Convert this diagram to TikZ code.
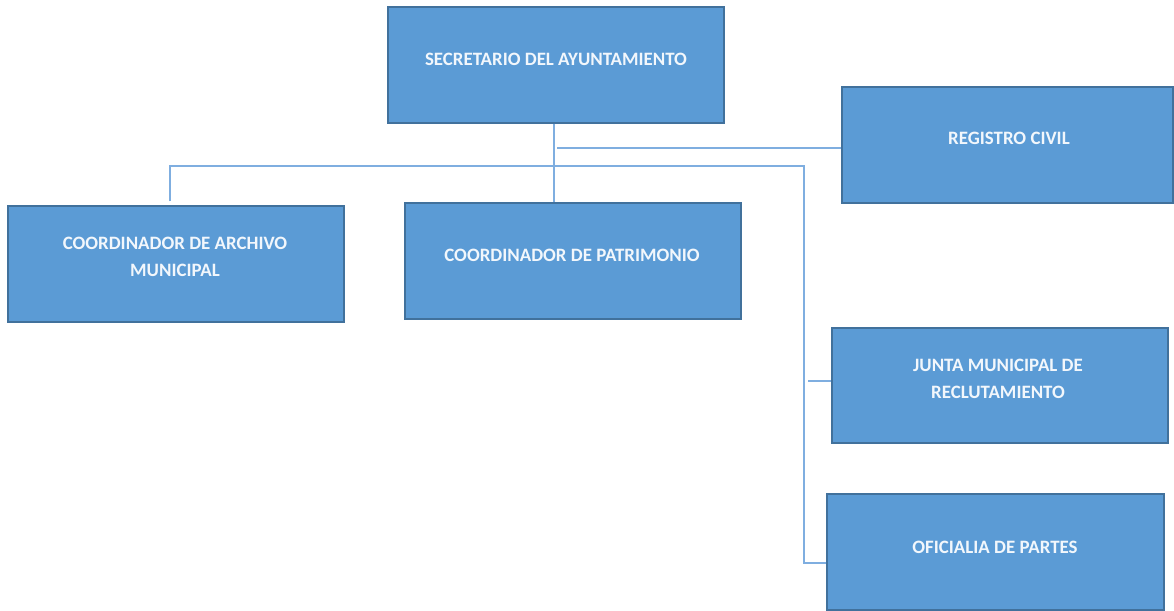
\documentclass[tikz,border=0pt]{standalone}
\usepackage{fontspec}
\setmainfont{Carlito}
\definecolor{boxfill}{HTML}{5B9BD5}
\definecolor{boxline}{HTML}{41719C}
\definecolor{conn}{HTML}{7FAEE0}
\begin{document}
\begin{tikzpicture}[x=1pt,y=-1pt,
  orgbox/.style={draw=boxline,fill=boxfill,line width=1.2pt,inner sep=0pt},
  lbl/.style={text=white!92!boxfill,font=\bfseries\fontsize{18.9}{27}\selectfont,align=center,inner sep=0pt},
  link/.style={draw=conn,line width=1.4pt}]
\useasboundingbox (0,0) rectangle (1174,610);
\clip (0,0) rectangle (1174,610);
\node[orgbox,minimum width=336pt,minimum height=116pt] (sec) at (556,65) {};
\node[orgbox,minimum width=331pt,minimum height=116pt] (reg) at (1007.5,145) {};
\node[orgbox,minimum width=336pt,minimum height=116pt] (arch) at (176,264) {};
\node[orgbox,minimum width=336pt,minimum height=116pt] (pat) at (573,261) {};
\node[orgbox,minimum width=336pt,minimum height=115pt] (junta) at (1000,385.5) {};
\node[orgbox,minimum width=337pt,minimum height=116pt] (ofi) at (995.5,552) {};
\node[lbl] (tsec) at (556,59) {SECRETARIO DEL AYUNTAMIENTO};
\node[lbl] (treg) at (1009,138) {REGISTRO CIVIL};
\node[lbl] (tarch) at (175,256.5) {COORDINADOR DE ARCHIVO\\MUNICIPAL};
\node[lbl] (tpat) at (572,255) {COORDINADOR DE PATRIMONIO};
\node[lbl] (tjunta) at (998,378.5) {JUNTA MUNICIPAL DE\\RECLUTAMIENTO};
\node[lbl] (tofi) at (995,547) {OFICIALIA DE PARTES};
\coordinate (c1) at (557,148);
\coordinate (h1) at (170,166);
\coordinate (h2) at (804,166);
\coordinate (j1) at (808,381);
\coordinate (o1) at (803,563);
\draw[link] (sec.south -| 554,0) -- (554,202);
\draw[link] (c1) -- (reg.west |- c1);
\draw[link] (arch.north -| h1) ++(0,-4) -- (h1) -- (h2) -- (804,564);
\draw[link] (j1) -- (junta.west |- j1);
\draw[link] (o1) -- (ofi.west |- o1);
\end{tikzpicture}
\end{document}
